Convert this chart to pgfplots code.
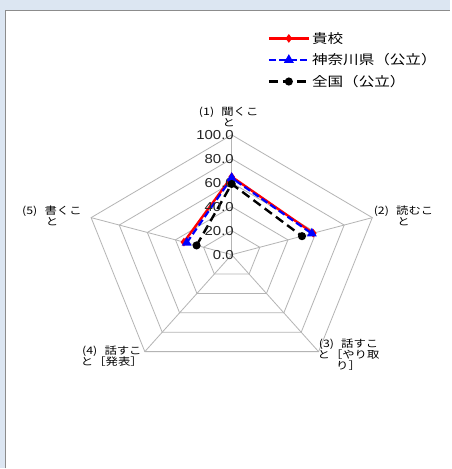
\documentclass[border=0pt]{standalone}
\usepackage{fontspec}
\usepackage{pgfplots}
\pgfplotsset{compat=1.18}
\setmainfont{Liberation Sans}
\newfontfamily\jp[FakeStretch=1.2]{Noto Sans CJK JP}
\newfontfamily\num[FakeStretch=1.15]{Liberation Sans}
\definecolor{bgblue}{HTML}{DCE6F2}
\definecolor{gridgray}{HTML}{B4B4B4}
\definecolor{bordergray}{HTML}{8C8C8C}
\tikzset{valnode/.style={anchor=east, inner sep=0pt, text=black!85, font=\num\fontsize{13}{13}\selectfont}}
\begin{document}
\begin{tikzpicture}
\fill[bgblue] (0pt,0pt) rectangle (451pt,469pt);
\fill[white] (5pt,0pt) rectangle (451pt,459pt);
\draw[bordergray, line width=1.2pt] (5.6pt,0pt) -- (5.6pt,458.4pt) -- (451pt,458.4pt);
\begin{axis}[
  at={(232pt,214pt)}, anchor=origin,
  x=1.48pt, y=1.2pt,
  xmin=-110, xmax=110, ymin=-110, ymax=110,
  hide axis, clip=false,
  legend style={at={(0.61,1.352)}, anchor=north west, draw=none, fill=none,
    font=\jp\fontsize{13}{15}\selectfont, row sep=5pt, inner sep=0pt,
    cells={anchor=west}},
  legend image code/.code={\draw[mark repeat=2,mark phase=2,#1] plot coordinates {(0pt,0pt)(20pt,0pt)(40pt,0pt)};},
]
% grid rings
\addplot[gridgray, line width=0.8pt, data cs=polar, forget plot] coordinates {(90,20)(18,20)(-54,20)(-126,20)(162,20)(90,20)};
\addplot[gridgray, line width=0.8pt, data cs=polar, forget plot] coordinates {(90,40)(18,40)(-54,40)(-126,40)(162,40)(90,40)};
\addplot[gridgray, line width=0.8pt, data cs=polar, forget plot] coordinates {(90,60)(18,60)(-54,60)(-126,60)(162,60)(90,60)};
\addplot[gridgray, line width=0.8pt, data cs=polar, forget plot] coordinates {(90,80)(18,80)(-54,80)(-126,80)(162,80)(90,80)};
\addplot[gridgray, line width=0.8pt, data cs=polar, forget plot] coordinates {(90,100)(18,100)(-54,100)(-126,100)(162,100)(90,100)};
% spokes
\addplot[gridgray, line width=0.8pt, data cs=polar, forget plot] coordinates {(90,0)(90,100)};
\addplot[gridgray, line width=0.8pt, data cs=polar, forget plot] coordinates {(18,0)(18,100)};
\addplot[gridgray, line width=0.8pt, data cs=polar, forget plot] coordinates {(-54,0)(-54,100)};
\addplot[gridgray, line width=0.8pt, data cs=polar, forget plot] coordinates {(-126,0)(-126,100)};
\addplot[gridgray, line width=0.8pt, data cs=polar, forget plot] coordinates {(162,0)(162,100)};
% data
\addplot[red, line width=2.4pt, mark=diamond*, mark size=2.4pt, mark options={solid}, data cs=polar] coordinates {(162,34)(90,65)(18,58)};
\addlegendentry{貴校}
\addplot[blue, line width=2.2pt, dash pattern=on 7pt off 3.5pt, mark=triangle*, mark size=3.6pt, mark options={solid}, data cs=polar] coordinates {(162,32)(90,64)(18,57)};
\addlegendentry{神奈川県（公立）}
\addplot[black, line width=2.4pt, dash pattern=on 9pt off 5pt, mark=*, mark size=2.8pt, mark options={solid}, data cs=polar] coordinates {(162,25)(90,59)(18,50)};
\addlegendentry{全国（公立）}
% value labels
\node[valnode] at (axis cs:1.5,0) {0.0};
\node[valnode] at (axis cs:1.5,20) {20.0};
\node[valnode] at (axis cs:1.5,40) {40.0};
\node[valnode] at (axis cs:1.5,60) {60.0};
\node[valnode] at (axis cs:1.5,80) {80.0};
\node[valnode] at (axis cs:1.5,100) {100.0};
\end{axis}
\begin{scope}[every node/.style={align=center, inner sep=0pt, font=\jp\fontsize{10.3}{11}\selectfont}]
\node at (229pt,352pt) {(1)\hspace{0.7em}聞くこ\\と};
\node at (404pt,253pt) {(2)\hspace{0.7em}読むこ\\と};
\node at (349pt,114pt) {(3)\hspace{0.7em}話すこ\\と［やり取\\り］};
\node at (112pt,112pt) {(4)\hspace{0.7em}話すこ\\と［発表］};
\node at (52pt,253pt) {(5)\hspace{0.7em}書くこ\\と};
\end{scope}
\end{tikzpicture}
\end{document}
